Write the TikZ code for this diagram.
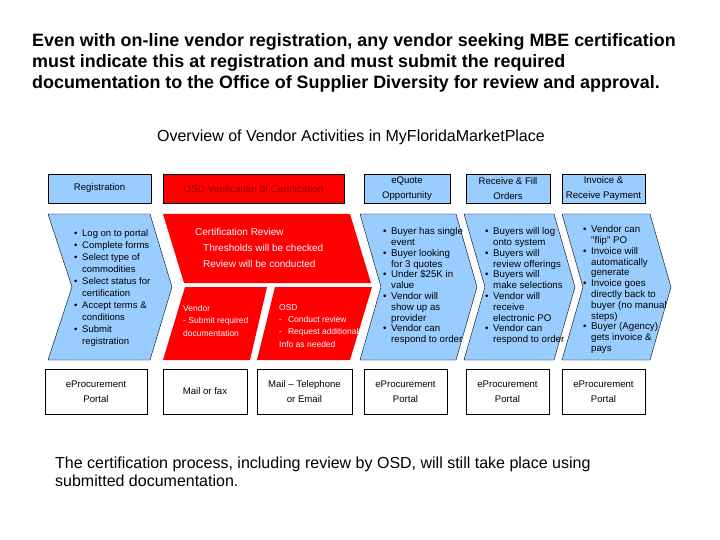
\documentclass[tikz,border=0pt]{standalone}
\usepackage{fontspec}
\setmainfont{Liberation Sans}
\usepackage{tikz}
\usetikzlibrary{shapes}
\definecolor{paleblue}{RGB}{153,204,255}
\definecolor{darkred}{RGB}{150,0,0}
\tikzstyle{hdr}=[draw=black,fill=paleblue,inner sep=0pt,align=center,minimum height=29pt,font=\fontsize{9.6}{15}\selectfont]
\tikzstyle{redhdr}=[hdr,fill=red,text=darkred,font=\fontsize{10}{12}\selectfont]
\tikzstyle{portal}=[draw=black,fill=white,inner sep=0pt,align=center,minimum height=45pt,font=\fontsize{9.6}{15}\selectfont]
\tikzstyle{chev}=[draw=black,fill=paleblue]
\tikzstyle{redpc}=[fill=red]
\tikzstyle{list}=[anchor=north west,inner sep=0pt,align=left]
\tikzstyle{redlist}=[list,text=white]
\newcommand{\bul}{\makebox[8pt][l]{\textbullet}}
\newcommand{\ind}{\hspace*{8pt}}

\begin{document}
\begin{tikzpicture}[x=1pt,y=-1pt]
        \useasboundingbox [fill=white] (0,0) rectangle (720,540);
        \node at (32,33.5) [list,font=\fontsize{17.9}{21}\selectfont\bfseries] (title) {Even with on-line vendor registration, any vendor seeking MBE certification\\must indicate this at registration and must submit the required\\documentation to the Office of Supplier Diversity for review and approval.};
        \node at (351,137) [font=\fontsize{16}{18}\selectfont] (overview) {Overview of Vendor Activities in MyFloridaMarketPlace};

        \node at (99.5,188.5) [hdr,minimum width=103pt] (reghdr) {Registration};
        \node at (253.5,188.5) [redhdr,minimum width=181pt] (osdhdr) {OSD Verification of Certification};
        \node at (407,188.5) [hdr,minimum width=86pt] (quotehdr) {eQuote\\Opportunity};
        \node at (508,188.5) [hdr,minimum width=84pt] (fillhdr) {Receive \& Fill\\Orders};
        \node at (603.5,188.5) [hdr,minimum width=83pt] (payhdr) {Invoice \&\\Receive Payment};

        \draw[chev] (48,214) -- (150,214) -- (172,287) -- (150,360) -- (48,360) -- (72,287) -- cycle;
        \fill[redpc] (163,214) -- (350,214) -- (371,283) -- (184,283) -- cycle;
        \fill[redpc] (185,287) -- (267,287) -- (250,360) -- (163,360) -- cycle;
        \fill[redpc] (275,287) -- (372,287) -- (350,360) -- (257,360) -- cycle;
        \draw[chev] (360,214) -- (456,214) -- (477,287) -- (456,360) -- (360,360) -- (381,287) -- cycle;
        \draw[chev] (464,214) -- (554,214) -- (575,287) -- (554,360) -- (464,360) -- (485,287) -- cycle;
        \draw[chev] (562,214) -- (650,214) -- (671,287) -- (650,360) -- (562,360) -- (583,287) -- cycle;

        \node at (74,229.5) [list,font=\fontsize{9.5}{12}\selectfont] (reglist) {\bul Log on to portal\\\bul Complete forms\\\bul Select type of\\\ind commodities\\\bul Select status for\\\ind certification\\\bul Accept terms \&\\\ind conditions\\\bul Submit\\\ind registration};
        \node at (195,228.4) [redlist,font=\fontsize{10}{16}\selectfont] (review) {Certification Review\\\hspace*{8pt}Thresholds will be checked\\\hspace*{8pt}Review will be conducted};
        \node at (183,305) [redlist,font=\fontsize{8.5}{12.5}\selectfont] (vendor) {Vendor\\- Submit required\\documentation};
        \node at (279,304) [redlist,font=\fontsize{8.5}{12.3}\selectfont] (osd) {OSD\\-\hspace*{6pt}Conduct review\\-\hspace*{6pt}Request additional\\Info as needed};
        \node at (383,227.5) [list,font=\fontsize{9.7}{10.8}\selectfont] (quotelist) {\bul Buyer has single\\\ind event\\\bul Buyer looking\\\ind for 3 quotes\\\bul Under \$25K in\\\ind value\\\bul Vendor will\\\ind show up as\\\ind provider\\\bul Vendor can\\\ind respond to order};
        \node at (485,227.5) [list,font=\fontsize{9.7}{10.8}\selectfont] (filllist) {\bul Buyers will log\\\ind onto system\\\bul Buyers will\\\ind review offerings\\\bul Buyers will\\\ind make selections\\\bul Vendor will\\\ind receive\\\ind electronic PO\\\bul Vendor can\\\ind respond to order};
        \node at (583,225.5) [list,font=\fontsize{9.7}{10.8}\selectfont] (paylist) {\bul Vendor can\\\ind \textquotedbl flip\textquotedbl\ PO\\\bul Invoice will\\\ind automatically\\\ind generate\\\bul Invoice goes\\\ind directly back to\\\ind buyer (no manual\\\ind steps)\\\bul Buyer (Agency)\\\ind gets invoice \&\\\ind pays};

        \node at (96,391.5) [portal,minimum width=102pt] (regportal) {eProcurement\\Portal};
        \node at (205,391.5) [portal,minimum width=84pt] (mailfax) {Mail or fax};
        \node at (304.5,391.5) [portal,minimum width=95pt] (phone) {Mail -- Telephone\\or Email};
        \node at (405.5,391.5) [portal,minimum width=83pt] (quoteportal) {eProcurement\\Portal};
        \node at (507.5,391.5) [portal,minimum width=83pt] (fillportal) {eProcurement\\Portal};
        \node at (603.5,391.5) [portal,minimum width=83pt] (payportal) {eProcurement\\Portal};

        \node at (55,457) [list,font=\fontsize{16}{18}\selectfont] (note) {The certification process, including review by OSD, will still take place using\\submitted documentation.};
      \end{tikzpicture}
\end{document}
